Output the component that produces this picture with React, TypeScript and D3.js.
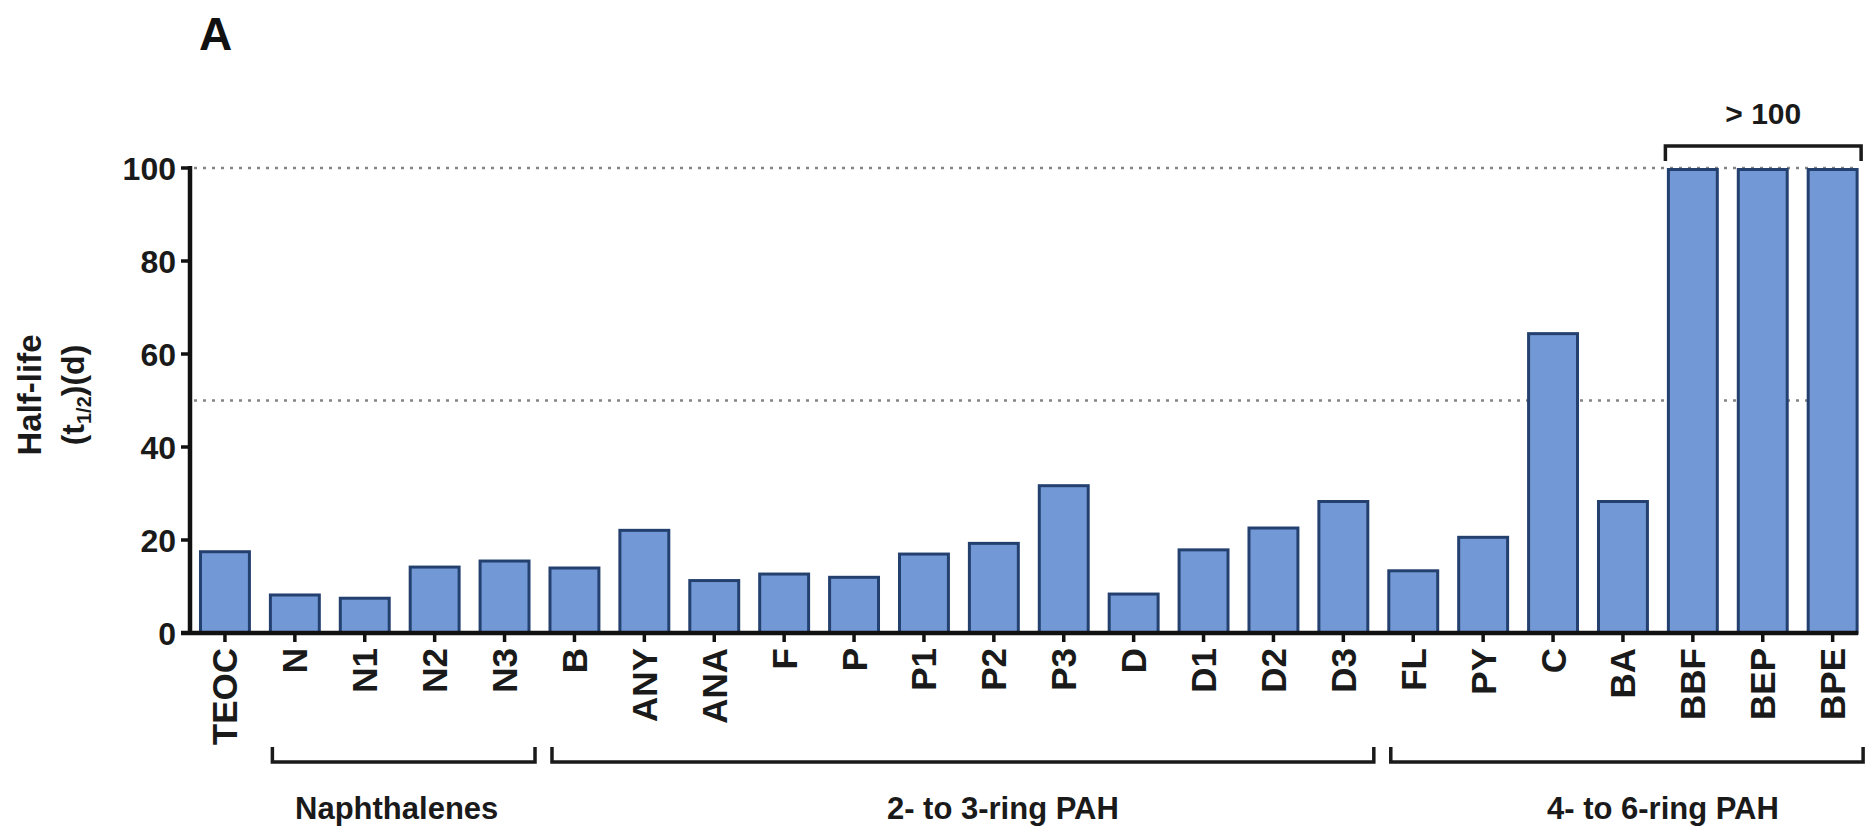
import React from "react";
import * as d3 from "d3";

const categories = ["TEOC","N","N1","N2","N3","B","ANY","ANA","F","P","P1","P2","P3","D","D1","D2","D3","FL","PY","C","BA","BBF","BEP","BPE"];
const halfLife = [17.8,8.5,7.8,14.5,15.8,14.3,22.4,11.6,13.0,12.3,17.3,19.6,32.0,8.7,18.2,22.9,28.6,13.7,20.9,64.7,28.6,100,100,100];
const yTicks = [0,20,40,60,80,100];
const refLines = [50,100];
const groupNames = ["Naphthalenes","2- to 3-ring PAH","4- to 6-ring PAH"];
const groupFirst = ["N","B","FL"];
const groupLast = ["N3","D3","BPE"];
const capLabel = "> 100";
const capFirst = "BBF";
const capLast = "BPE";

const W = 1868, H = 831;
const FONT = "'Liberation Sans', Arial, Helvetica, sans-serif";

export default function App() {
  const step = 69.9;
  const x0 = 190;
  const x = d3.scaleBand<string>()
    .domain(categories)
    .range([x0, x0 + step * categories.length])
    .paddingInner(0.3)
    .paddingOuter(0.15);
  const y = d3.scaleLinear().domain([0, 100]).range([633, 168]);
  const bw = x.bandwidth();
  const axisEnd = (x(categories[categories.length - 1]) as number) + bw + 1;
  const labelShift = [-7, 40, 36];

  return (
    <svg width={W} height={H} style={{ position: "absolute", left: 0, top: 0, background: "#fff" }} fontFamily={FONT} fontWeight="bold">
      <rect x={0} y={0} width={W} height={H} fill="#fff" />
      <text x={199} y={50} fontSize={46} fill="#111">A</text>

      {/* reference dotted lines */}
      {refLines.map((v) => (
        <line key={v} x1={x0 + 4} x2={axisEnd} y1={y(v)} y2={y(v)} stroke="#858585" strokeWidth={2.5} strokeDasharray="3 6" />
      ))}

      {/* bars */}
      {categories.map((c, i) => (
        <rect key={c} x={x(c)} y={y(halfLife[i]) + 1.5} width={bw} height={y(0) - y(halfLife[i]) - 1.5}
          fill="#7299d6" stroke="#23406f" strokeWidth={3} />
      ))}

      {/* y axis */}
      <line x1={x0} x2={x0} y1={y(0) + 2} y2={y(100) - 2} stroke="#111" strokeWidth={4.5} />
      {yTicks.map((t) => (
        <g key={t}>
          <line x1={x0 - 9} x2={x0} y1={y(t)} y2={y(t)} stroke="#111" strokeWidth={3.5} />
          <text x={176} y={y(t)} dy="0.36em" textAnchor="end" fontSize={32} fill="#1a1a1a">{t}</text>
        </g>
      ))}

      {/* x axis */}
      <line x1={x0 - 9} x2={axisEnd} y1={y(0)} y2={y(0)} stroke="#111" strokeWidth={4.5} />
      {categories.map((c) => {
        const cx = (x(c) as number) + bw / 2;
        return (
          <g key={c}>
            <line x1={cx} x2={cx} y1={y(0)} y2={y(0) + 9} stroke="#111" strokeWidth={3.5} />
            <text transform={`translate(${cx},${y(0) + 15}) rotate(-90)`} textAnchor="end" dominantBaseline="central" fontSize={35} fill="#1a1a1a">{c}</text>
          </g>
        );
      })}

      {/* y axis title */}
      <text transform={`translate(41,395) rotate(-90)`} textAnchor="middle" fontSize={33} fill="#1a1a1a">Half-life</text>
      <text transform={`translate(84,395) rotate(-90)`} textAnchor="middle" fontSize={32} fill="#1a1a1a">
        (t<tspan fontSize={20} dy="7">1/2</tspan><tspan dy="-7">)(d)</tspan>
      </text>

      {/* group brackets */}
      {groupNames.map((g, i) => {
        const l = (x(groupFirst[i]) as number) + 2;
        const r = (x(groupLast[i]) as number) + bw + 6;
        const by = 762;
        return (
          <g key={g}>
            <path d={`M${l},${by - 15}V${by}H${r}V${by - 15}`} fill="none" stroke="#1a1a1a" strokeWidth={3.5} />
            <text x={(l + r) / 2 + labelShift[i]} y={819} textAnchor="middle" fontSize={31} fill="#1a1a1a">{g}</text>
          </g>
        );
      })}

      {/* > 100 bracket */}
      {(() => {
        const l = (x(capFirst) as number) - 3;
        const r = (x(capLast) as number) + bw + 4;
        const by = 146;
        return (
          <g>
            <path d={`M${l},${by + 15}V${by}H${r}V${by + 15}`} fill="none" stroke="#1a1a1a" strokeWidth={3.5} />
            <text x={(l + r) / 2} y={124} textAnchor="middle" fontSize={30} fill="#1a1a1a">{capLabel}</text>
          </g>
        );
      })()}
    </svg>
  );
}
